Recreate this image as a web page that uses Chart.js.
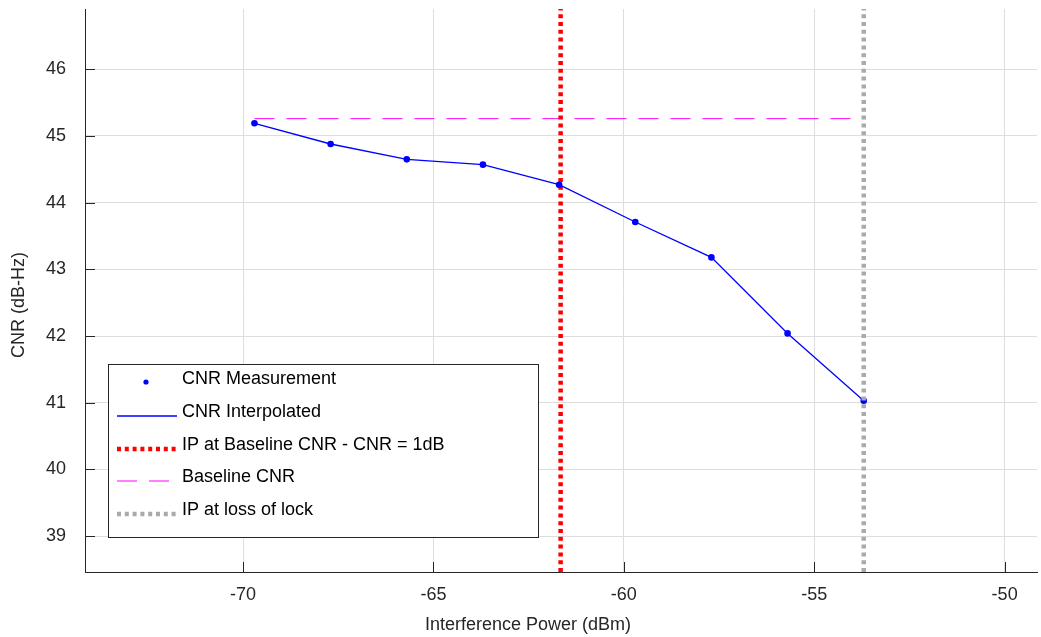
<!DOCTYPE html>
<html>
<head>
<meta charset="utf-8">
<script src="https://cdn.jsdelivr.net/npm/chart.js@4.4.1/dist/chart.umd.min.js"></script>
<style>
  html, body { margin: 0; padding: 0; background: #fff; }
  #wrap { width: 1041px; height: 637px; }
</style>
</head>
<body>
<div id="wrap"><canvas id="cnrChart" width="1041" height="637"></canvas></div>
<script>
// Data
const interferencePower = [-69.7, -67.7, -65.7, -63.7, -61.7, -59.7, -57.7, -55.7, -53.7];
const cnrMeasured = [45.19, 44.88, 44.65, 44.57, 44.27, 43.71, 43.18, 42.04, 41.03];
const baselineCnr = 45.26;
const ipAtBaseline = -61.66;
const ipLossOfLock = -53.7;
const xTicks = [-70, -65, -60, -55, -50];
const yTicks = [39, 40, 41, 42, 43, 44, 45, 46];
const xRange = [-74.15, -49.15];
const yRange = [38.463, 46.904];

const FONT = "'Liberation Sans', Arial, sans-serif";
const AXIS = "#262626";

const points = interferencePower.map((x, i) => ({ x: x, y: cnrMeasured[i] }));

// extra drawing: inward ticks, axis titles, legend box
const decorations = {
  id: "decorations",
  afterDraw(chart) {
    const ctx = chart.ctx;
    const xs = chart.scales.x;
    const ys = chart.scales.y;
    const area = chart.chartArea;

    ctx.save();
    ctx.strokeStyle = AXIS;
    ctx.lineWidth = 1;
    xTicks.forEach((v) => {
      const px = Math.round(xs.getPixelForValue(v)) + 0.5;
      ctx.beginPath();
      ctx.moveTo(px, area.bottom);
      ctx.lineTo(px, area.bottom - 10);
      ctx.stroke();
    });
    yTicks.forEach((v) => {
      const py = Math.round(ys.getPixelForValue(v)) + 0.5;
      ctx.beginPath();
      ctx.moveTo(area.left, py);
      ctx.lineTo(area.left + 10, py);
      ctx.stroke();
    });

    // axis titles
    ctx.fillStyle = AXIS;
    ctx.font = "18px " + FONT;
    ctx.textAlign = "center";
    ctx.textBaseline = "middle";
    ctx.fillText("Interference Power (dBm)", 528, 625);
    ctx.translate(19, 305);
    ctx.rotate(-Math.PI / 2);
    ctx.fillText("CNR (dB-Hz)", 0, 0);
    ctx.restore();

    // legend
    const box = { left: 108, top: 364, right: 538, bottom: 537 };
    ctx.save();
    ctx.fillStyle = "#fff";
    ctx.fillRect(box.left, box.top, box.right - box.left, box.bottom - box.top);
    ctx.strokeStyle = AXIS;
    ctx.lineWidth = 1;
    ctx.strokeRect(box.left + 0.5, box.top + 0.5, box.right - box.left, box.bottom - box.top);

    const rows = [379, 412, 445, 477, 510];
    chart.data.datasets.forEach((ds, i) => {
      const y = rows[i];
      if (ds.showLine === false) {
        ctx.fillStyle = ds.pointBackgroundColor;
        ctx.beginPath();
        ctx.arc(146, y + 3, 2.6, 0, Math.PI * 2);
        ctx.fill();
      } else {
        ctx.strokeStyle = ds.borderColor;
        ctx.lineWidth = ds.borderWidth;
        ctx.setLineDash(ds.borderDash || []);
        ctx.beginPath();
        ctx.moveTo(117, y + 4);
        ctx.lineTo(177, y + 4);
        ctx.stroke();
        ctx.setLineDash([]);
      }
      ctx.fillStyle = "#000";
      ctx.font = "18px " + FONT;
      ctx.textAlign = "left";
      ctx.textBaseline = "middle";
      ctx.fillText(ds.label, 182, y);
    });
    ctx.restore();
  },
};

const ctx = document.getElementById("cnrChart").getContext("2d");
const cnrChart = new Chart(ctx, {
  type: "scatter",
  data: {
    datasets: [
      {
        label: "CNR Measurement",
        data: points,
        showLine: false,
        pointRadius: 3.3,
        pointBackgroundColor: "#0000ff",
        pointBorderWidth: 0,
        order: 0,
      },
      {
        label: "CNR Interpolated",
        data: points,
        showLine: true,
        borderColor: "#0000ff",
        borderWidth: 1.3,
        pointRadius: 0,
        order: 1,
      },
      {
        label: "IP at Baseline CNR - CNR = 1dB",
        data: [
          { x: ipAtBaseline, y: yRange[0] },
          { x: ipAtBaseline, y: yRange[1] },
        ],
        showLine: true,
        borderColor: "#ff0000",
        borderWidth: 4.5,
        borderDash: [4, 3.8],
        borderCapStyle: "butt",
        pointRadius: 0,
        order: 2,
      },
      {
        label: "Baseline CNR",
        data: [
          { x: interferencePower[0], y: baselineCnr },
          { x: ipLossOfLock, y: baselineCnr },
        ],
        showLine: true,
        borderColor: "#ff00ff",
        borderWidth: 1,
        borderDash: [20, 12],
        pointRadius: 0,
        order: 3,
      },
      {
        label: "IP at loss of lock",
        data: [
          { x: ipLossOfLock, y: yRange[0] },
          { x: ipLossOfLock, y: yRange[1] },
        ],
        showLine: true,
        borderColor: "#aaaaaa",
        borderWidth: 4.5,
        borderDash: [4, 3.8],
        borderCapStyle: "butt",
        pointRadius: 0,
        order: -1,
      },
    ],
  },
  options: {
    responsive: false,
    animation: false,
    layout: { padding: { top: 9, right: 0, left: 0, bottom: 0 } },
    plugins: {
      legend: { display: false },
      tooltip: { enabled: false },
    },
    scales: {
      x: {
        type: "linear",
        min: xRange[0],
        max: xRange[1],
        afterBuildTicks: (scale) => {
          scale.ticks = xTicks.map((v) => ({ value: v }));
        },
        afterFit: (scale) => {
          scale.height = 65;
          scale.paddingLeft = 0;
          scale.paddingRight = 0;
        },
        grid: { color: "#dedede", drawTicks: false },
        border: { color: AXIS, width: 1 },
        ticks: {
          padding: 12,
          color: AXIS,
          font: { family: FONT, size: 18 },
        },
      },
      y: {
        type: "linear",
        min: yRange[0],
        max: yRange[1],
        afterBuildTicks: (scale) => {
          scale.ticks = yTicks.map((v) => ({ value: v }));
        },
        afterFit: (scale) => {
          scale.width = 85;
          scale.paddingTop = 0;
          scale.paddingBottom = 0;
        },
        grid: { color: "#dedede", drawTicks: false },
        border: { color: AXIS, width: 1 },
        ticks: {
          padding: 19,
          color: AXIS,
          font: { family: FONT, size: 18 },
        },
      },
    },
  },
  plugins: [decorations],
});
</script>
</body>
</html>
